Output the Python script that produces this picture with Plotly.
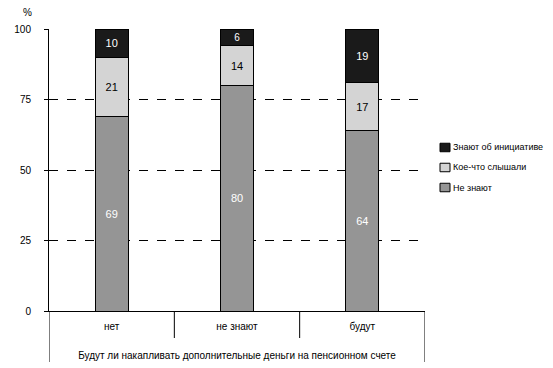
import plotly.graph_objects as go

categories = ["нет", "не знают", "будут"]
series_names = ["Не знают", "Кое-что слышали", "Знают об инициативе"]
ne_znayut = [69, 80, 64]
koe_chto = [21, 14, 17]
znayut = [10, 6, 19]
y_ticks = [0, 25, 50, 75, 100]
x_title = "Будут ли накапливать дополнительные деньги на пенсионном счете"

FONT = "Liberation Sans Narrow, Arial Narrow, Liberation Sans, Arial, sans-serif"
colors = ["#959595", "#d4d4d4", "#1a1a1a"]
text_colors = ["white", "black", "white"]

fig = go.Figure()
for name, vals, c, tc in zip(series_names, [ne_znayut, koe_chto, znayut], colors, text_colors):
    fig.add_trace(go.Bar(
        x=categories, y=vals, name=name,
        marker=dict(color=c, line=dict(color="black", width=1)),
        text=vals, textposition="inside", insidetextanchor="middle", textangle=0,
        textfont=dict(color=tc, size=11, family=FONT),
        width=0.265, showlegend=False,
    ))

PH = 282.0  # plot height in px
PW = 376.0  # plot width in px

annotations = [dict(text="%", xref="paper", yref="paper", x=-0.0585, y=1.057,
                    xanchor="center", yanchor="middle", showarrow=False, font=dict(size=10))]
shapes = []

# manual legend (top to bottom: reversed series order)
leg_x0 = 1.0399
leg_w = 10 / PW
leg_h = 8.5 / PH
leg_yc = [0.5798, 0.5089, 0.4379]
for yc, name, c in zip(leg_yc, series_names[::-1], colors[::-1]):
    shapes.append(dict(type="rect", xref="paper", yref="paper",
                       x0=leg_x0, x1=leg_x0 + leg_w, y0=yc - leg_h / 2, y1=yc + leg_h / 2,
                       fillcolor=c, line=dict(color="black", width=1)))
    annotations.append(dict(text=name, xref="paper", yref="paper", x=leg_x0 + leg_w + 1 / PW, y=yc,
                            xanchor="left", yanchor="middle", showarrow=False,
                            font=dict(size=9)))

# bottom category box
for xv in [0.5, 1.5]:
    shapes.append(dict(type="line", xref="x", yref="paper", x0=xv, x1=xv, y0=0, y1=-27 / PH,
                       line=dict(color="black", width=1)))
for xv in [-0.5, 2.5]:
    shapes.append(dict(type="line", xref="x", yref="paper", x0=xv, x1=xv, y0=0, y1=-51 / PH,
                       line=dict(color="black", width=1)))

fig.update_layout(
    barmode="stack",
    width=545, height=360,
    margin=dict(l=41, r=128, t=21, b=57, autoexpand=False),
    plot_bgcolor="white", paper_bgcolor="white",
    font=dict(family=FONT, size=10, color="black"),
    showlegend=False,
    xaxis=dict(range=[-0.5, 2.5], showline=True, linecolor="black", linewidth=1,
               ticks="", showgrid=False, tickfont=dict(size=10), automargin=False,
               ticklabelstandoff=6,
               title=dict(text=x_title, standoff=20, font=dict(size=10))),
    yaxis=dict(range=[0, 100], tickvals=y_ticks, showline=True, linecolor="black", linewidth=1,
               ticks="outside", ticklen=4, tickcolor="black", automargin=False,
               showgrid=True, gridcolor="black", griddash="dash", gridwidth=1,
               zeroline=False, ticklabelstandoff=11, tickfont=dict(size=10)),
    annotations=annotations,
    shapes=shapes,
)

fig.write_html("out.html")
